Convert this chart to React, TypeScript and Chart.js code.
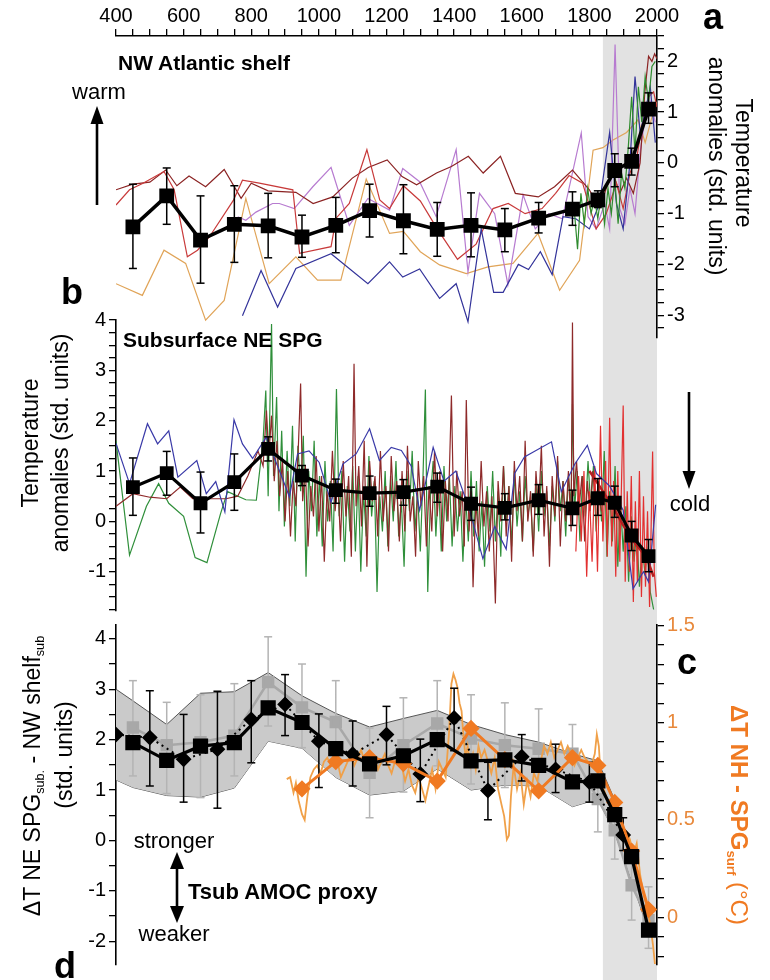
import React, { useEffect, useRef } from 'react';
import { Chart, registerables } from 'chart.js';

Chart.register(...registerables);

const FONT = '"Liberation Sans", Arial, Helvetica, sans-serif';

// shaded modern period (years)
const BAND = [1840, 2000];

// ---------------- Panel a : NW Atlantic shelf ----------------
const aYears = [450, 550, 650, 750, 850, 950, 1050, 1150, 1250, 1350, 1450, 1550, 1650, 1750, 1825, 1875, 1925, 1975];
const aMean = [-1.26, -0.65, -1.52, -1.21, -1.24, -1.46, -1.23, -0.94, -1.14, -1.31, -1.23, -1.32, -1.09, -0.91, -0.73, -0.15, 0.03, 1.06];
const aHi = [-0.42, -0.1, -0.65, -0.45, -0.6, -1.03, -0.68, -0.42, -0.43, -0.78, -0.59, -0.9, -0.78, -0.57, -0.55, 0.18, 0.29, 1.38];
const aLo = [-2.08, -1.21, -2.37, -1.96, -1.87, -1.86, -1.77, -1.46, -1.79, -1.84, -1.85, -1.75, -1.38, -1.23, -0.88, -0.47, -0.24, 0.78];

const aMaroon = [[400, -0.53], [450, -0.42], [500, -0.38], [547, -0.14], [580, -0.45], [616, -0.26], [665, -0.47], [720, -0.13], [770, -0.7], [800, -0.4], [850, -0.55], [932, -0.58], [983, -0.8], [1041, -0.67], [1099, -0.3], [1146, -0.09], [1202, 0.06], [1246, -0.27], [1289, -0.43], [1348, -0.2], [1392, -0.07], [1442, 0.13], [1486, -0.2], [1537, 0.13], [1581, -0.6], [1649, -0.67], [1697, -0.47], [1750, -0.14], [1800, -0.53], [1830, -0.9], [1850, -0.5], [1870, -0.2], [1890, -0.6], [1910, -0.3], [1930, -0.6], [1950, 0.0], [1964, 1.4], [1975, 2.1], [1985, 2.0], [1993, 2.15], [2000, 2.05]];
const aRed = [[400, -0.83], [440, -0.53], [480, -0.4], [542, -0.17], [572, -0.53], [611, -1.85], [641, -1.72], [676, -1.46], [747, -0.74], [774, -0.34], [824, -0.4], [923, -0.53], [943, -1.78], [1036, -1.65], [1051, -1.09], [1090, -0.8], [1142, 0.26], [1180, -0.73], [1209, -0.9], [1250, -0.45], [1300, -0.75], [1350, -1.3], [1410, -1.9], [1465, -1.6], [1515, -0.9], [1560, -0.8], [1610, -1.0], [1660, -0.9], [1700, -0.6], [1740, -0.25], [1780, -0.4], [1820, -1.3], [1850, -1.0], [1880, -0.4], [1900, -0.9], [1920, -0.2], [1940, 0.1], [1960, 0.9], [1975, 1.3], [1990, 1.4], [2000, 1.1]];
const aPurple = [[760, -1.06], [784, -1.13], [814, -0.97], [863, -0.8], [883, -0.8], [927, -0.9], [982, -0.47], [1036, -0.09], [1090, -1.23], [1145, -0.7], [1209, -0.93], [1248, -0.11], [1298, -0.37], [1347, -1.06], [1406, 0.26], [1441, -2.15], [1475, -0.6], [1520, -1.0], [1559, -2.4], [1604, -0.63], [1640, -1.3], [1680, -1.0], [1720, -1.1], [1776, 0.59], [1796, -1.06], [1820, -1.3], [1845, -0.8], [1860, -1.3], [1876, 2.33], [1890, -0.9], [1905, -1.2], [1920, -0.5], [1935, -1.0], [1950, 0.2], [1965, 0.9], [1980, 1.2], [1995, 0.8]];
const aOrange = [[400, -2.38], [478, -2.61], [542, -1.72], [606, -1.98], [665, -3.1], [720, -2.71], [784, -0.7], [853, -2.38], [932, -1.85], [996, -2.31], [1065, -2.31], [1140, -0.32], [1209, -1.39], [1250, -1.35], [1300, -1.75], [1357, -2.01], [1436, -2.18], [1500, -2.05], [1574, -1.98], [1648, -1.39], [1712, -2.51], [1771, -1.92], [1811, 0.25], [1840, 0.3], [1870, 0.45], [1910, 0.6], [1944, 0.85], [1965, 0.4], [1985, 0.9], [2000, 1.2]];
const aNavy = [[774, -3.01], [829, -2.12], [878, -2.84], [932, -2.08], [1036, -1.79], [1145, -2.38], [1209, -1.95], [1248, -2.25], [1298, -2.09], [1357, -2.67], [1406, -2.38], [1441, -3.13], [1480, -1.3], [1517, -2.55], [1545, -2.55], [1590, -2.0], [1620, -2.1], [1655, -1.75], [1690, -2.2], [1722, -1.06], [1760, -1.1], [1800, -1.3], [1830, -0.8], [1860, 0.6], [1880, -0.8], [1900, -1.3], [1920, 0.0], [1935, 1.7], [1950, 0.6], [1965, 1.0], [1980, 1.5], [1995, 0.4]];
const aGreen = [[1755, -0.9], [1765, -1.7], [1775, -0.6], [1785, -1.2], [1795, -0.5], [1805, -1.0], [1815, -0.7], [1825, -1.1], [1835, -0.6], [1845, -1.2], [1855, -0.5], [1865, -1.0], [1875, -0.3], [1885, -1.2], [1895, -0.2], [1905, -0.5], [1915, 0.3], [1925, 1.3], [1935, 0.2], [1945, 1.5], [1955, 0.8], [1965, 1.7], [1975, 1.2], [1985, 1.9], [1995, 2.0]];

// ---------------- Panel b : Subsurface NE SPG ----------------
const bYears = aYears;
const bMean = [0.68, 0.96, 0.36, 0.78, 1.44, 0.91, 0.62, 0.56, 0.58, 0.69, 0.35, 0.27, 0.42, 0.26, 0.46, 0.37, -0.28, -0.69];
const bHi = [1.26, 1.39, 0.98, 1.34, 1.68, 1.11, 0.84, 0.9, 0.83, 0.96, 0.68, 0.55, 0.73, 0.62, 0.85, 0.7, 0.0, -0.36];
const bLo = [0.12, 0.52, -0.23, 0.22, 1.2, 0.71, 0.36, 0.3, 0.32, 0.38, 0.02, 0.03, 0.14, -0.08, 0.12, 0.08, -0.58, -1.0];

const bNavy = [[400, 1.55], [440, 0.75], [493, 1.94], [523, 1.54], [556, 1.8], [583, 0.88], [639, 1.21], [667, 0.55], [695, 0.79], [722, 0.19], [749, 2.02], [774, 1.54], [804, 1.25], [844, 1.67], [883, 1.01], [913, 0.49], [937, 1.34], [971, 1.4], [1001, 1.17], [1036, 0.38], [1071, 1.14], [1110, 1.34], [1150, 1.84], [1179, 1.21], [1214, 1.47], [1244, 1.41], [1273, 1.1], [1298, 0.22], [1338, 1.47], [1370, 0.8], [1405, 1.0], [1446, 0.22], [1485, -0.74], [1520, -0.1], [1554, -0.55], [1579, 0.95], [1608, 1.28], [1688, 1.58], [1717, 0.59], [1757, 1.14], [1794, 1.51], [1821, 0.95], [1860, 0.7], [1900, 0.22], [1929, -1.34], [1960, -1.0], [1975, -1.2], [1996, 0.33]];
const bGreen = [[400, 1.6], [440, -0.67], [490, 0.3], [526, 0.75], [556, 0.36], [600, 0.1], [634, -0.72], [669, -0.82], [709, 0.15], [730, 0.59], [784, 0.43], [815, 0.42], [835, 1.6], [843, 2.6], [850, 0.5], [860, 3.92], [866, 0.9], [875, 2.47], [882, 0.2], [890, 1.8], [898, -0.1], [906, 1.4], [914, 0.3], [922, 1.9], [930, -0.4], [938, 1.5], [946, 0.6], [954, 1.7], [962, -1.1], [970, 1.0], [978, 0.2], [986, 1.6], [994, -0.3], [1002, 0.9], [1010, -0.5], [1018, 1.2], [1026, 0.0], [1034, 0.8], [1042, -0.6], [1052, 2.63], [1060, 0.1], [1068, 1.0], [1076, -0.8], [1084, 0.7], [1092, -0.2], [1100, 1.1], [1108, -0.6], [1116, 0.9], [1124, -1.0], [1132, 0.6], [1140, -0.3], [1148, 1.3], [1156, 0.1], [1164, 0.8], [1172, -1.4], [1180, 0.5], [1188, -0.2], [1196, 1.0], [1204, -0.5], [1212, 0.9], [1220, 0.0], [1228, 1.2], [1236, -0.3], [1244, 0.4], [1252, -0.9], [1260, 1.0], [1268, 0.2], [1276, 1.4], [1284, -0.2], [1292, 0.6], [1300, -0.6], [1308, 0.9], [1315, 2.62], [1322, -1.4], [1330, 0.5], [1338, 1.2], [1346, -0.3], [1354, 0.8], [1362, -0.6], [1370, 1.1], [1378, 0.0], [1386, 0.9], [1394, -0.5], [1402, 0.7], [1410, -0.2], [1418, 0.6], [1426, -0.8], [1434, 0.5], [1442, -0.4], [1450, 1.0], [1458, -0.3], [1466, 0.8], [1474, -0.6], [1482, 0.4], [1490, -0.9], [1498, 0.7], [1506, -0.2], [1514, 1.0], [1522, -0.4], [1530, 0.6], [1538, -0.7], [1546, 1.1], [1554, 0.0], [1562, 0.7], [1570, -0.5], [1578, 1.0], [1586, -0.1], [1594, 0.6], [1602, -0.4], [1610, 0.9], [1618, 0.1], [1626, 0.5], [1634, -0.6], [1642, 0.8], [1650, -0.2], [1658, 1.0], [1666, 0.1], [1674, 0.6], [1682, -0.5], [1690, 0.7], [1698, 0.0], [1706, 1.2], [1714, 0.2], [1722, 0.8], [1730, -0.3], [1738, 0.9], [1746, 0.3], [1750, 2.33], [1756, 0.2], [1764, 1.0], [1772, -0.4], [1780, 0.9], [1788, 0.1], [1796, 1.2], [1804, 0.3], [1812, 1.1], [1820, -0.2], [1828, 0.8], [1836, 0.0], [1844, 1.4], [1852, -0.7], [1860, 0.6], [1868, -0.4], [1876, 1.1], [1884, -0.9], [1892, 0.4], [1900, -0.6], [1908, 0.3], [1916, -1.2], [1924, 0.1], [1932, -0.8], [1940, -0.2], [1948, -1.3], [1956, -0.5], [1964, -1.0], [1972, -0.6], [1980, -1.4], [1990, -1.75]];
const bMaroon = [[400, 0.3], [450, 0.55], [500, 0.48], [550, 0.45], [590, 0.68], [627, 0.45], [676, 0.45], [725, 0.45], [760, 0.5], [790, 0.9], [820, 1.4], [835, 1.1], [845, 2.2], [852, 1.3], [860, 2.1], [868, 0.8], [876, 1.6], [884, 0.5], [892, 1.2], [900, 0.0], [908, 1.0], [916, -0.3], [924, 0.8], [932, 0.3], [940, 1.6], [946, 2.74], [952, 0.4], [960, 1.1], [968, -0.5], [976, 0.7], [984, 0.1], [992, 1.3], [1000, -0.2], [1008, 0.9], [1016, -0.8], [1024, 0.6], [1032, 0.0], [1040, 1.4], [1048, 0.2], [1056, 0.8], [1064, -0.4], [1072, 1.2], [1080, 0.1], [1088, 0.9], [1096, -0.7], [1104, 3.13], [1110, 0.3], [1118, 1.1], [1126, -0.1], [1134, 1.6], [1142, -0.9], [1150, 1.2], [1158, 0.4], [1166, 0.9], [1174, -0.3], [1182, 1.4], [1190, 0.0], [1198, 0.7], [1206, -0.6], [1214, 1.3], [1222, 0.2], [1230, 0.8], [1238, -0.4], [1246, 1.0], [1254, -0.2], [1262, 1.5], [1270, 0.0], [1278, 0.5], [1286, -0.7], [1294, 1.2], [1302, 0.3], [1310, 0.9], [1318, -0.5], [1326, 0.7], [1334, -0.2], [1342, 1.4], [1350, 0.1], [1358, 1.0], [1366, -0.6], [1374, 0.8], [1382, 0.0], [1392, 2.5], [1400, -0.3], [1408, 1.0], [1416, 0.1], [1424, 0.6], [1430, -0.5], [1436, 2.41], [1444, -0.2], [1450, 0.6], [1456, -1.31], [1464, 0.4], [1472, -0.3], [1480, 1.2], [1488, -0.1], [1496, 0.6], [1504, -0.6], [1512, 0.5], [1522, -1.63], [1530, 0.8], [1538, 0.0], [1546, 1.1], [1554, -0.3], [1562, 0.7], [1570, -0.8], [1578, 1.2], [1586, 0.2], [1594, 0.9], [1602, -0.4], [1610, 1.6], [1618, 0.0], [1626, 0.6], [1634, -0.7], [1642, 1.0], [1650, 0.2], [1658, 1.5], [1666, -0.3], [1674, 0.7], [1682, -0.9], [1690, 0.9], [1698, 0.1], [1706, 1.3], [1714, -0.5], [1722, 0.8], [1730, 0.0], [1738, 1.0], [1746, -0.2], [1750, 3.95], [1754, 0.5], [1762, 1.2], [1770, 0.3], [1778, 0.9], [1786, -0.4], [1794, 0.8], [1802, 0.2], [1810, 1.0], [1818, 0.4], [1826, 0.7], [1836, 0.2]];
const bRed = [[1760, -0.6], [1768, 0.9], [1776, -0.4], [1784, 1.0], [1792, -1.1], [1800, 0.6], [1808, -0.8], [1816, 1.1], [1824, -1.0], [1833, 1.9], [1840, -0.4], [1848, 1.2], [1853, -0.7], [1860, 2.06], [1866, -0.5], [1872, 0.8], [1878, -1.1], [1884, 1.0], [1890, -0.8], [1900, 2.3], [1906, -1.2], [1912, 0.6], [1918, -1.0], [1924, 0.9], [1930, -1.6], [1936, 0.4], [1942, -1.2], [1948, 1.0], [1954, -1.5], [1960, 0.5], [1966, -1.3], [1972, 0.2], [1978, -1.7], [1987, 1.39], [1992, -1.0], [1998, -1.5]];
const bRedTrend = [[1800, 1.0], [1830, 0.7], [1870, 0.28], [1920, -0.31], [1969, -0.71], [1990, -1.1]];

// ---------------- Panel c : Tsub AMOC proxy ----------------
const cYears = aYears;
const cMean = [1.94, 1.59, 1.87, 1.94, 2.63, 2.34, 1.82, 1.52, 1.68, 2.0, 1.58, 1.6, 1.49, 1.16, 1.18, 0.51, -0.32, -1.78];
const envYears = [400, 450, 550, 650, 750, 850, 950, 1050, 1150, 1250, 1350, 1450, 1550, 1650, 1750, 1825, 1875, 1925, 1975];
const envUpper = [3.0, 2.77, 2.3, 2.92, 2.95, 3.33, 2.87, 2.52, 2.25, 2.42, 2.58, 2.3, 2.1, 1.95, 1.72, 1.58, 0.8, -0.2, -1.35];
const envLower = [1.2, 1.05, 0.89, 0.86, 1.04, 1.97, 1.83, 1.25, 0.9, 0.98, 1.42, 1.0, 1.1, 1.08, 0.67, 0.82, 0.15, -0.8, -1.8];

const grayVals = [2.24, 1.89, 1.95, 2.08, 3.14, 2.64, 2.35, 1.34, 1.89, 2.32, 2.02, 1.89, 1.82, 1.72, 0.82, 0.2, -0.89, -1.58];
const grayHi = [3.17, 2.74, 2.89, 3.11, 4.04, 3.5, 3.17, 2.23, 2.83, 3.17, 2.89, 2.73, 2.61, 2.3, 1.48, 0.59, -0.36, -0.92];
const grayLo = [1.28, 0.93, 0.85, 1.28, 2.27, 1.84, 1.48, 0.45, 0.96, 1.48, 1.12, 1.05, 1.08, 1.15, 0.17, -0.37, -1.58, -2.14];

const diaYears = [400, 500, 600, 700, 800, 900, 1000, 1100, 1200, 1300, 1400, 1500, 1600, 1700, 1800, 1900];
const diaVals = [2.1, 2.04, 1.61, 1.81, 2.4, 2.7, 1.97, 1.71, 2.1, 1.32, 2.43, 0.99, 1.66, 1.41, 1.16, 0.11];
const diaHi = [null, 2.97, 2.5, 2.96, 3.17, 3.29, 2.51, 2.37, 2.66, 2.01, 3.02, 1.55, 2.1, 1.91, 1.55, 0.45];
const diaLo = [null, 1.08, 0.76, 0.64, 1.54, 2.08, 1.05, 1.08, 1.5, 0.77, 1.78, 0.41, 1.18, 0.95, 0.76, -0.2];

// right axis (deg C)
const orYears = [950, 1050, 1150, 1250, 1350, 1450, 1550, 1650, 1750, 1825, 1875, 1925, 1975];
const orVals = [0.66, 0.8, 0.82, 0.79, 0.7, 0.97, 0.81, 0.65, 0.82, 0.78, 0.59, 0.34, 0.04];
const orThin = [[905, 0.71], [915, 0.72], [925, 0.64], [932, 0.69], [940, 0.6], [950, 0.53], [958, 0.5], [966, 0.62], [975, 0.72], [985, 0.76], [995, 0.78], [1005, 0.74], [1015, 0.8], [1025, 0.82], [1035, 0.78], [1045, 0.84], [1055, 0.8], [1065, 0.72], [1075, 0.76], [1085, 0.8], [1095, 0.84], [1105, 0.78], [1115, 0.82], [1125, 0.86], [1135, 0.8], [1145, 0.84], [1155, 0.78], [1165, 0.82], [1175, 0.76], [1185, 0.8], [1195, 0.84], [1205, 0.78], [1215, 0.74], [1225, 0.8], [1235, 0.82], [1245, 0.78], [1255, 0.7], [1265, 0.76], [1275, 0.68], [1285, 0.64], [1295, 0.72], [1305, 0.66], [1315, 0.6], [1325, 0.68], [1335, 0.76], [1345, 0.66], [1355, 0.8], [1365, 0.76], [1375, 0.72], [1385, 0.95], [1392, 1.2], [1398, 1.25], [1404, 1.22], [1410, 1.18], [1416, 1.1], [1422, 1.06], [1428, 0.92], [1434, 0.82], [1440, 0.88], [1448, 0.78], [1456, 0.84], [1464, 0.76], [1472, 0.88], [1480, 0.82], [1490, 0.86], [1500, 0.8], [1510, 0.74], [1520, 0.82], [1530, 0.66], [1540, 0.58], [1548, 0.52], [1556, 0.4], [1562, 0.42], [1568, 0.62], [1576, 0.78], [1586, 0.66], [1596, 0.74], [1606, 0.58], [1616, 0.7], [1626, 0.62], [1636, 0.74], [1646, 0.7], [1656, 0.8], [1666, 0.88], [1676, 0.84], [1686, 0.9], [1696, 0.82], [1706, 0.86], [1716, 0.9], [1726, 0.84], [1736, 0.88], [1746, 0.84], [1756, 0.78], [1766, 0.82], [1776, 0.86], [1786, 0.82], [1796, 0.8], [1806, 0.78], [1816, 0.84], [1822, 0.94], [1828, 0.88], [1834, 0.7], [1842, 0.66], [1850, 0.62], [1860, 0.58], [1870, 0.6], [1880, 0.56], [1890, 0.5], [1900, 0.46], [1910, 0.44], [1920, 0.4], [1930, 0.32], [1940, 0.38], [1950, 0.22], [1960, 0.12], [1970, 0.06], [1980, -0.04], [1988, -0.14], [1994, -0.24]];

// ---------------- helpers ----------------
const pts = (p: number[][]) => p.map(([x, y]) => ({ x, y }));
const zip = (xs: number[], ys: number[]) => xs.map((x, i) => ({ x, y: ys[i] }));
const bars = (xs: number[], lo: (number | null)[], hi: (number | null)[]) => {
  const d: any[] = [];
  xs.forEach((x, i) => {
    if (lo[i] == null || hi[i] == null) return;
    d.push({ x, y: lo[i] }, { x, y: hi[i] }, { x, y: null });
  });
  return d;
};
const thin = (data: any[], color: string, w = 1.2) => ({
  data, borderColor: color, borderWidth: w, pointRadius: 0, fill: false, tension: 0,
});
const errDs = (data: any[], color: string, w = 1.5, cap = 4) => ({
  data, borderColor: color, borderWidth: w, spanGaps: false, fill: false,
  pointStyle: 'line', pointRadius: cap, pointBorderColor: color, pointBorderWidth: w,
});
const fmt = (v: number) => {
  const r = Math.round(v * 100) / 100;
  return String(r === 0 ? 0 : r);
};
const yAxis = (position: string, min: number, max: number, step: number, every: number, width: number, labelColor = '#000') => ({
  type: 'linear', position, min, max,
  ticks: {
    stepSize: step, autoSkip: false, includeBounds: false, color: labelColor, padding: 3,
    font: { family: FONT, size: 20 },
    callback: (v: number) => {
      const r = Math.round(v / every) * every;
      return Math.abs(v - r) < 1e-6 ? fmt(r) : '';
    },
  },
  grid: { drawOnChartArea: false, drawTicks: true, tickLength: 7, color: '#000', lineWidth: 1.3 },
  border: { display: true, color: '#000', width: 1.6 },
  afterFit: (s: any) => { s.width = width; },
});
const hiddenX = { type: 'linear', min: 400, max: 2000, display: false };

const baseOptions = (padding: any, scales: any) => ({
  animation: false, responsive: false, maintainAspectRatio: false, events: [],
  layout: { padding },
  plugins: { legend: { display: false }, tooltip: { enabled: false } },
  elements: { line: { tension: 0 } },
  scales,
});

const bandPlugin = {
  id: 'band',
  beforeDraw(chart: any) {
    const { ctx, chartArea } = chart;
    const x = chart.scales.x;
    const x0 = x.getPixelForValue(BAND[0]);
    const x1 = x.getPixelForValue(BAND[1]);
    ctx.save();
    ctx.fillStyle = '#E2E2E2';
    ctx.fillRect(x0, chartArea.top, x1 - x0, chart.height - chartArea.top);
    ctx.restore();
  },
};

function cfgA(): any {
  return {
    type: 'line',
    data: {
      datasets: [
        { data: zip(aYears, aMean), borderColor: '#000', borderWidth: 3.5, pointStyle: 'rect', pointRadius: 8, pointBackgroundColor: '#000', pointBorderColor: '#000', fill: false },
        errDs(bars(aYears, aLo, aHi), '#000'),
        thin(pts(aGreen), '#2E8B2E'),
        thin(pts(aNavy), '#33339A'),
        thin(pts(aRed), '#C83A3A'),
        thin(pts(aMaroon), '#8B2323'),
        thin(pts(aPurple), '#B77BD0'),
        thin(pts(aOrange), '#E0A458'),
      ],
    },
    options: baseOptions({ left: 116, top: 0, right: 0, bottom: 642 }, {
      x: {
        type: 'linear', position: 'top', min: 400, max: 2000,
        ticks: {
          stepSize: 50, autoSkip: false, includeBounds: false, maxRotation: 0, color: '#000', padding: 1,
          font: { family: FONT, size: 20 },
          callback: (v: number) => (v % 200 === 0 ? String(v) : ''),
        },
        grid: { drawOnChartArea: false, drawTicks: true, tickLength: 7, color: '#000', lineWidth: 1.3 },
        border: { display: true, color: '#000', width: 1.6 },
        afterFit: (s: any) => { s.height = 36; },
      },
      y: yAxis('right', -3.45, 2.5, 0.25, 1, 113),
    }),
    plugins: [bandPlugin],
  };
}

function cfgB(): any {
  return {
    type: 'line',
    data: {
      datasets: [
        { data: zip(bYears, bMean), borderColor: '#000', borderWidth: 3.2, pointStyle: 'rect', pointRadius: 7.5, pointBackgroundColor: '#000', pointBorderColor: '#000', fill: false },
        errDs(bars(bYears, bLo, bHi), '#000'),
        thin(pts(bRedTrend), '#B51F1F', 2.5),
        thin(pts(bNavy), '#3A3AA8'),
        thin(pts(bRed), '#E23030'),
        thin(pts(bMaroon), '#8E2A2A'),
        thin(pts(bGreen), '#2F8F3A'),
      ],
    },
    options: baseOptions({ left: 56, top: 320, right: 113, bottom: 369 }, {
      x: hiddenX,
      y: yAxis('left', -1.78, 4.0, 0.25, 1, 60),
    }),
  };
}

function cfgC(): any {
  return {
    type: 'line',
    data: {
      datasets: [
        { data: zip(cYears, cMean), yAxisID: 'y', borderColor: '#000', borderWidth: 3.2, pointStyle: 'rect', pointRadius: 8.5, pointBackgroundColor: '#000', pointBorderColor: '#000', fill: false },
        { data: zip(orYears, orVals), yAxisID: 'y1', borderColor: '#F07A22', borderWidth: 3, pointStyle: 'rectRot', pointRadius: 6.5, pointBackgroundColor: '#F07A22', pointBorderColor: '#F07A22', fill: false },
        { data: zip(diaYears, diaVals), yAxisID: 'y', borderColor: '#000', borderWidth: 2, borderDash: [2, 4], pointStyle: 'rectRot', pointRadius: 6.5, pointBackgroundColor: '#000', pointBorderColor: '#000', fill: false },
        { ...errDs(bars(diaYears, diaLo, diaHi), '#000'), yAxisID: 'y' },
        { ...thin(pts(orThin), '#F0A048', 1.8), yAxisID: 'y1' },
        { data: zip(cYears, grayVals), yAxisID: 'y', borderColor: '#A8A8A8', borderWidth: 2.5, pointStyle: 'rect', pointRadius: 7, pointBackgroundColor: '#A8A8A8', pointBorderColor: '#A8A8A8', fill: false },
        { ...errDs(bars(cYears, grayLo, grayHi), '#B4B4B4'), yAxisID: 'y' },
        { data: zip(envYears, envUpper), yAxisID: 'y', borderColor: '#555', borderWidth: 1, pointRadius: 0, fill: '+1', backgroundColor: '#CACACA' },
        { data: zip(envYears, envLower), yAxisID: 'y', borderColor: '#555', borderWidth: 1, pointRadius: 0, fill: false },
      ],
    },
    options: baseOptions({ left: 56, top: 625, right: 0, bottom: 13 }, {
      x: hiddenX,
      y: yAxis('left', -2.471, 4.274, 0.5, 1, 60),
      y1: yAxis('right', -0.245, 1.5016, 0.1, 0.5, 113, '#E8893C'),
    }),
  };
}

const Txt = ({ x, y, rot = 0, size = 22, bold = false, color = '#000', anchor = 'center', children }: any) => (
  <div
    style={{
      position: 'absolute', left: x, top: y,
      transform: `translate(${anchor === 'left' ? '0' : '-50%'}, -50%) rotate(${rot}deg)`,
      fontSize: size, fontWeight: bold ? 700 : 400, color, whiteSpace: 'nowrap',
      lineHeight: 1, fontFamily: FONT,
    }}
  >
    {children}
  </div>
);

const subStyle = { fontSize: '0.55em', verticalAlign: '-0.3em' } as any;

export default function App() {
  const refA = useRef<HTMLCanvasElement>(null);
  const refB = useRef<HTMLCanvasElement>(null);
  const refC = useRef<HTMLCanvasElement>(null);

  useEffect(() => {
    const ca = new Chart(refA.current as any, cfgA());
    const cb = new Chart(refB.current as any, cfgB());
    const cc = new Chart(refC.current as any, cfgC());
    return () => { ca.destroy(); cb.destroy(); cc.destroy(); };
  }, []);

  const cv = { position: 'absolute', left: 0, top: 0, width: 770, height: 980 } as any;

  return (
    <div style={{ position: 'absolute', left: 0, top: 0, width: 770, height: 980, background: '#fff', overflow: 'hidden', fontFamily: FONT }}>
      <canvas ref={refA} width={770} height={980} style={cv} />
      <canvas ref={refB} width={770} height={980} style={cv} />
      <canvas ref={refC} width={770} height={980} style={cv} />

      <svg width={770} height={980} style={{ position: 'absolute', left: 0, top: 0, pointerEvents: 'none' }}>
        {/* warm arrow */}
        <line x1={97} y1={205} x2={97} y2={120} stroke="#000" strokeWidth={2.6} />
        <polygon points="97,106 90.5,124 103.5,124" fill="#000" />
        {/* cold arrow */}
        <line x1={689} y1={392} x2={689} y2={474} stroke="#000" strokeWidth={2.6} />
        <polygon points="689,489 682.5,471 695.5,471" fill="#000" />
        {/* double arrow */}
        <line x1={177} y1={866} x2={177} y2={909} stroke="#000" strokeWidth={2.6} />
        <polygon points="177,852 170,869 184,869" fill="#000" />
        <polygon points="177,923 170,906 184,906" fill="#000" />
      </svg>

      {/* panel letters */}
      <Txt x={713} y={17} size={36} bold>a</Txt>
      <Txt x={72} y={292} size={36} bold>b</Txt>
      <Txt x={687} y={662} size={36} bold>c</Txt>
      <Txt x={65} y={966} size={36} bold>d</Txt>

      {/* annotations */}
      <Txt x={118} y={62} size={21} bold anchor="left">NW Atlantic shelf</Txt>
      <Txt x={99} y={92} size={22}>warm</Txt>
      <Txt x={123} y={339} size={21} bold anchor="left">Subsurface NE SPG</Txt>
      <Txt x={690} y={504} size={22}>cold</Txt>
      <Txt x={174} y={841} size={22}>stronger</Txt>
      <Txt x={188} y={892} size={22} bold anchor="left">Tsub AMOC proxy</Txt>
      <Txt x={174} y={934} size={22}>weaker</Txt>

      {/* axis titles */}
      <Txt x={743} y={163} rot={90} size={23}>Temperature</Txt>
      <Txt x={716} y={166} rot={90} size={23}>anomalies (std. units)</Txt>

      <Txt x={30} y={443} rot={-90} size={23}>Temperature</Txt>
      <Txt x={60} y={443} rot={-90} size={23}>anomalies (std. units)</Txt>

      <Txt x={34} y={776} rot={-90} size={23}>
        ΔT NE SPG<span style={subStyle}>sub.</span> - NW shelf<span style={subStyle}>sub</span>
      </Txt>
      <Txt x={64} y={755} rot={-90} size={23}>(std. units)</Txt>

      <Txt x={738} y={815} rot={90} size={24} color="#F07A22">
        <b>ΔT NH - SPG<span style={subStyle}>surf</span></b> (°C)
      </Txt>
    </div>
  );
}
